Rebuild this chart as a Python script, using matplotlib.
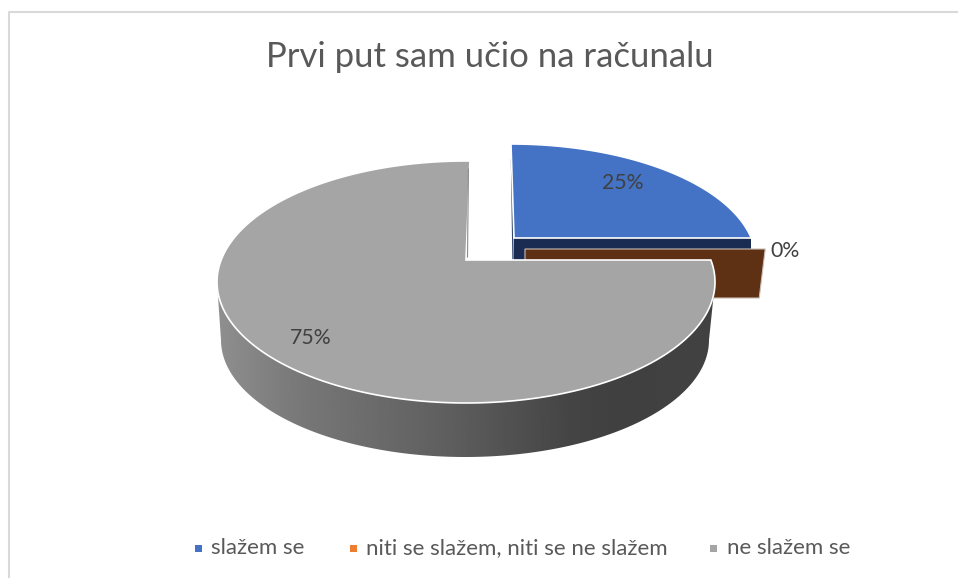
import matplotlib
matplotlib.use('Agg')
import matplotlib.pyplot as plt
import numpy as np
from matplotlib.patches import Polygon, Rectangle

plt.rcParams['font.family'] = ['Lato', 'DejaVu Sans']

title = 'Prvi put sam učio na računalu'
categories = ['slažem se', 'niti se slažem, niti se ne slažem', 'ne slažem se']
values = [25, 0, 75]
colors = ['#4472C4', '#ED7D31', '#A5A5A5']

# layout of the fake 3d pie, in pixels
blue_side = '#1B2C52'
brown_side = '#5F3114'
text_dark = '#404040'
text_title = '#595959'


def rim(alpha, apex, centre, rx, ry, shear):
	# where the ray from the apex hits the ellipse, alpha clockwise from top
	alpha = np.radians(alpha)
	dx = np.sin(alpha) + shear * np.cos(alpha)
	dy = -0.5 * np.cos(alpha)
	ox = (apex[0] - centre[0]) / rx
	oy = (apex[1] - centre[1]) / ry
	a = (dx / rx) ** 2 + (dy / ry) ** 2
	b = 2 * (ox * dx / rx + oy * dy / ry)
	c = ox ** 2 + oy ** 2 - 1
	t = (-b + np.sqrt(b ** 2 - 4 * a * c)) / (2 * a)
	return apex[0] + t * dx, apex[1] + t * dy


def slice_points(start, stop, apex, centre, rx, ry, shear):
	a = np.linspace(start, stop, 200)
	x, y = rim(a, apex, centre, rx, ry, shear)
	return np.column_stack([np.r_[apex[0], x], np.r_[apex[1], y]])


fig = plt.figure(figsize=(9.58, 5.78), dpi=100)
ax = fig.add_axes([0, 0, 1, 1])
ax.set_xlim(0, 958)
ax.set_ylim(578, 0)
ax.axis('off')

# chart frame
ax.plot([9.5, 9.5, 958], [578, 11.5, 11.5], color='#D9D9D9', lw=1.5)

angles = np.cumsum([0] + values) * 3.6

# cut faces of the exploded slices
blue = dict(apex=(514, 238), centre=(511, 261), rx=245, ry=117, shear=-0.016)
gray = dict(apex=(466, 260), centre=(466, 282), rx=249, ry=121, shear=0.02)
brown = dict(apex=(525, 249), centre=(525, 272), rx=245, ry=117, shear=0)

rx_, ry_ = rim(angles[1], **blue)
ax.add_patch(Polygon([(blue['apex'][0], ry_), (rx_, ry_), (rx_, ry_ + 45), (blue['apex'][0], ry_ + 45)],
	fc=blue_side, ec='none', zorder=2))

bx, by = rim(angles[2], **brown)
ax.add_patch(Polygon([(brown['apex'][0], by), (bx, by), (bx - 6, by + 49), (brown['apex'][0], by + 49)],
	fc=brown_side, ec='#C9BDB4', lw=0.8, zorder=3))

# top of the blue slice
ax.add_patch(Polygon(slice_points(angles[0], angles[1], **blue), fc=colors[0], ec='white', lw=1.2, zorder=4))
tx, ty = rim(angles[0], **blue)
ax.plot([tx + 0.5, blue['apex'][0] - 1], [ty + 16, blue['apex'][1] + 21], color='#33476F', lw=1, zorder=3)

# side wall of the gray slice with its gradient
t = np.radians(np.linspace(0, 180, 300))
top_x = gray['centre'][0] + gray['rx'] * np.cos(t)
top_y = gray['centre'][1] + gray['ry'] * np.sin(t)
low_x = 465 + 244 * np.cos(t)
low_y = 340 + 117 * np.sin(t)
wall = Polygon(np.column_stack([np.r_[top_x, low_x[::-1]], np.r_[top_y, low_y[::-1]]]), fc='none', ec='none')
ax.add_patch(wall)
grad = np.interp(np.linspace(217, 714, 256), [217, 300, 450, 570, 620, 714], [0.56, 0.47, 0.37, 0.27, 0.25, 0.26])
img = ax.imshow(grad[None, :], extent=(217, 714, 460, 280), cmap='gray', vmin=0, vmax=1, aspect='auto', zorder=5)
img.set_clip_path(wall)
ax.set_xlim(0, 958)
ax.set_ylim(578, 0)

# top of the gray slice
ax.add_patch(Polygon(slice_points(angles[2], angles[3], **gray), fc=colors[2], ec='white', lw=1.2, zorder=6))
gx, gy = rim(angles[3], **gray)
ax.plot([gx - 1.5, gray['apex'][0] + 1.5], [gy + 8, gray['apex'][1] - 3], color='#8C8C8C', lw=0.8, zorder=7)

# data labels
label_xy = [(623, 183), (785, 251), (311, 338)]
for v, (x, y) in zip(values, label_xy):
	ax.text(x, y, f'{v}%', color=text_dark, fontsize=15.3, ha='center', va='center', zorder=8)

ax.text(490, 57, title, color=text_title, fontsize=25, ha='center', va='center')

# legend
square_x = [195, 350, 710]
text_x = [211, 366, 727]
for name, col, sx, lx in zip(categories, colors, square_x, text_x):
	ax.add_patch(Rectangle((sx, 545), 7, 7, fc=col, ec='none'))
	ax.text(lx, 548, name, color=text_title, fontsize=16, ha='left', va='center')

fig.savefig('out.png', dpi=100)
